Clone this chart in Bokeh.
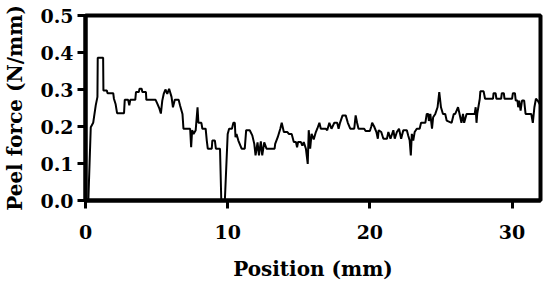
from bokeh.plotting import figure
from bokeh.embed import file_html
from bokeh.resources import INLINE
from bokeh.models import FixedTicker, Range1d, NumeralTickFormatter

position_mm = [0.2, 0.37, 0.54, 0.72, 0.84, 0.86, 1.24, 1.26, 1.5, 1.55, 1.95, 2.0, 2.12, 2.22, 2.71, 2.76,
               3.0, 3.08, 3.15, 3.5, 3.55, 3.75, 3.8, 3.95, 4.0, 4.25, 4.28, 4.93, 5.05, 5.2, 5.3, 5.4,
               5.5, 5.62, 5.75, 5.88, 6.05, 6.15, 6.28, 6.55, 6.65, 6.82, 6.89, 7.36, 7.43, 7.5, 7.6, 7.75,
               7.88, 7.94, 8.15, 8.22, 8.45, 8.53, 8.6, 8.88, 8.92, 9.1, 9.17, 9.46, 9.55, 9.8, 10.0, 10.1,
               10.3, 10.4, 10.5, 10.55, 10.62, 10.75, 10.98, 11.2, 11.3, 11.55, 11.73, 11.87, 11.96, 12.1,
               12.2, 12.33, 12.43, 12.57, 12.73, 13.3, 13.34, 13.52, 13.7, 13.8, 13.95, 14.2, 14.3, 14.5,
               14.65, 14.8, 14.88, 14.95, 15.15, 15.25, 15.35, 15.5, 15.63, 15.7, 15.8, 15.9, 16.05, 16.2,
               16.3, 16.45, 16.55, 16.9, 17.0, 17.15, 17.3, 17.5, 17.7, 17.8, 17.9, 18.08, 18.3, 18.45,
               18.62, 18.9, 19.0, 19.1, 19.2, 19.6, 19.7, 20.0, 20.1, 20.16, 20.3, 20.46, 20.56, 20.62,
               20.8, 20.95, 21.2, 21.3, 21.45, 21.65, 21.75, 21.9, 22.05, 22.2, 22.35, 22.6, 22.7, 22.8,
               22.88, 22.95, 23.05, 23.15, 23.3, 23.5, 23.6, 23.9, 24.0, 24.1, 24.15, 24.25, 24.37, 24.45,
               24.6, 24.76, 24.88, 25.0, 25.14, 25.3, 25.4, 25.75, 25.9, 26.0, 26.1, 26.2, 26.3, 26.44,
               26.55, 26.63, 26.8, 27.37, 27.44, 27.5, 27.55, 27.73, 27.77, 28.0, 28.1, 28.66, 28.7, 28.84,
               28.9, 29.23, 29.28, 29.42, 29.47, 30.0, 30.06, 30.2, 30.26, 30.38, 30.43, 30.5, 30.6, 30.7,
               30.85, 30.95, 31.35, 31.46, 31.57, 31.68, 31.8, 31.95]

peel_force = [0.0, 0.198, 0.21, 0.257, 0.28, 0.386, 0.386, 0.297, 0.297, 0.29, 0.29, 0.275, 0.26, 0.236, 0.236, 0.272,
              0.272, 0.257, 0.272, 0.272, 0.293, 0.293, 0.302, 0.302, 0.293, 0.293, 0.272, 0.272, 0.262, 0.248, 0.235, 0.27,
              0.288, 0.30, 0.288, 0.302, 0.28, 0.252, 0.272, 0.272, 0.257, 0.234, 0.194, 0.194, 0.144, 0.19, 0.18, 0.19,
              0.252, 0.21, 0.21, 0.194, 0.194, 0.162, 0.14, 0.14, 0.162, 0.162, 0.14, 0.14, 0.0, 0.0, 0.18, 0.194,
              0.194, 0.21, 0.21, 0.171, 0.18, 0.162, 0.14, 0.14, 0.19, 0.19, 0.176, 0.153, 0.122, 0.157,
              0.122, 0.16, 0.122, 0.157, 0.14, 0.14, 0.153, 0.171, 0.194, 0.21, 0.185, 0.185, 0.18, 0.18,
              0.158, 0.158, 0.144, 0.158, 0.158, 0.148, 0.158, 0.14, 0.099, 0.19, 0.14, 0.18, 0.165, 0.185,
              0.194, 0.21, 0.194, 0.194, 0.19, 0.21, 0.194, 0.21, 0.21, 0.194, 0.21, 0.23, 0.23, 0.21,
              0.194, 0.194, 0.23, 0.21, 0.194, 0.194, 0.188, 0.188, 0.2, 0.21, 0.2, 0.185, 0.167, 0.19,
              0.185, 0.167, 0.167, 0.185, 0.167, 0.19, 0.167, 0.185, 0.194, 0.167, 0.19, 0.19, 0.175, 0.162,
              0.122, 0.18, 0.162, 0.185, 0.194, 0.194, 0.21, 0.21, 0.234, 0.234, 0.215, 0.234, 0.194, 0.225,
              0.234, 0.252, 0.293, 0.252, 0.234, 0.234, 0.216, 0.21, 0.234, 0.234, 0.243, 0.252, 0.235, 0.21,
              0.234, 0.21, 0.234, 0.234, 0.252, 0.21, 0.234, 0.275, 0.295, 0.295, 0.275, 0.275, 0.29, 0.29,
              0.275, 0.275, 0.29, 0.29, 0.275, 0.275, 0.29, 0.29, 0.27, 0.27, 0.252, 0.27, 0.243, 0.27,
              0.27, 0.234, 0.234, 0.21, 0.252, 0.275, 0.27, 0.26]

x_ticks = [0, 10, 20, 30]
y_ticks = [0.0, 0.1, 0.2, 0.3, 0.4, 0.5]
x_label = "Position (mm)"
y_label = "Peel force (N/mm)"

FONT = "DejaVu Serif"

p = figure(frame_width=455, frame_height=185, output_backend="svg", toolbar_location=None,
           x_range=Range1d(0, 32), y_range=Range1d(0, 0.5),
           min_border_left=85, min_border_top=15, min_border_right=4, min_border_bottom=0)

p.line(position_mm, peel_force, line_color="black", line_width=2)

p.xgrid.visible = False
p.ygrid.visible = False
p.outline_line_color = "black"
p.outline_line_width = 4
p.outline_line_alpha = 1

p.xaxis.ticker = FixedTicker(ticks=x_ticks)
p.yaxis.ticker = FixedTicker(ticks=y_ticks)
p.yaxis.formatter = NumeralTickFormatter(format="0.0")

for ax in (p.xaxis[0], p.yaxis[0]):
    ax.axis_line_width = 4
    ax.axis_line_color = "black"
    ax.major_tick_line_width = 3
    ax.major_tick_line_color = "black"
    ax.major_tick_out = 8
    ax.major_tick_in = 0
    ax.minor_tick_line_color = None
    ax.major_label_text_font = FONT
    ax.major_label_text_font_style = "bold"
    ax.major_label_text_font_size = "19px"
    ax.major_label_text_color = "black"
    ax.axis_label_text_font = FONT
    ax.axis_label_text_font_style = "bold"
    ax.axis_label_text_font_size = "20px"
    ax.axis_label_text_color = "black"

p.xaxis.axis_label = x_label
p.yaxis.axis_label = y_label
p.xaxis.major_label_standoff = 16
p.xaxis.axis_label_standoff = 15
p.yaxis.major_label_standoff = 4
p.yaxis.axis_label_standoff = 10

open("out.html", "w").write(file_html(p, INLINE))
